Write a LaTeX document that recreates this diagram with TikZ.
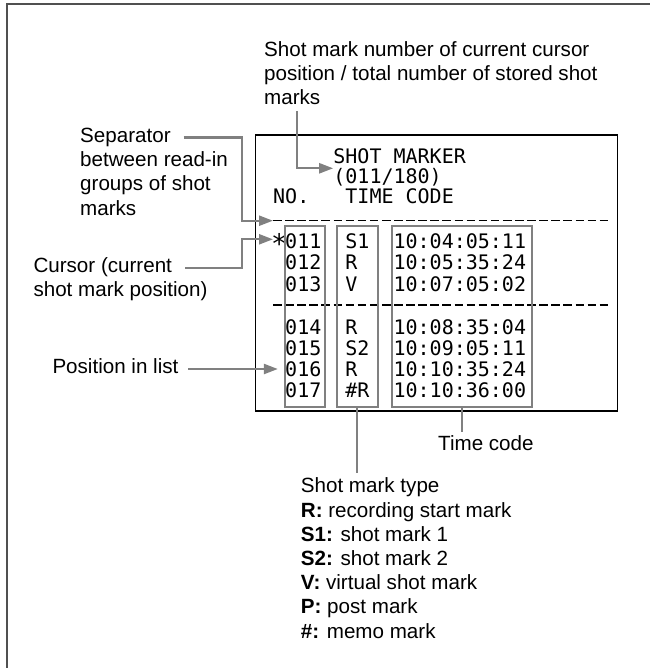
\documentclass[tikz,border=0pt]{standalone}
\usepackage{fontspec}
\setmainfont{Liberation Sans}
\setmonofont{DejaVu Sans Mono}
\usepackage{xcolor}
\usetikzlibrary{arrows.meta}
\definecolor{markgray}{HTML}{808080}
\definecolor{framegray}{HTML}{505050}
\newcommand{\cursorstar}{\makebox[0.602em]{\raisebox{-0.28em}{\scalebox{1.35}{*}}}}

\begin{document}
\begin{tikzpicture}[x=1pt,y=-1pt,>={Triangle[length=14pt,width=10pt]},
  note/.style={font=\fontsize{20.6}{24.2}\selectfont,inner sep=0pt,align=left,anchor=base west},
  lcd/.style={font=\fontsize{20}{21}\selectfont\ttfamily,inner sep=0pt,anchor=base west},
  colbox/.style={draw=markgray,line width=2.3pt,inner sep=0pt,minimum height=180.7pt},
  lead/.style={draw=markgray,line width=2.3pt},
  sepline/.style={line width=1.3pt,dash pattern=on 8.6pt off 3.5pt}]
  \useasboundingbox (0,0) rectangle (650,668);
  \draw[framegray,line width=1.8pt] (7.3,668) -- (7.3,4.3) -- (650,4.3);

  \node[draw,line width=1.3pt,minimum width=362pt,minimum height=276pt,inner sep=0pt] (screen) at (436.7,273) {};
  \node[lcd] (title) at (333.2,163.3) {SHOT MARKER};
  \node[lcd] (count) at (333.2,183.3) {(011/180)};
  \node[lcd] (head) at (273,203.3) {NO.~~~TIME~CODE};
  \coordinate (sep1) at (273,220.7);
  \coordinate (sep2) at (273,305);
  \draw[sepline] (sep1) -- (sep1 -| 610,0);
  \draw[sepline] (sep2) -- (sep2 -| 610,0);
  \node[lcd] (row1) at (273,248) {\cursorstar011~~S1~~10:04:05:11};
  \node[lcd] (row2) at (273,269.5) {~012~~R~~~10:05:35:24};
  \node[lcd] (row3) at (273,291) {~013~~V~~~10:07:05:02};
  \node[lcd] (row4) at (273,334) {~014~~R~~~10:08:35:04};
  \node[lcd] (row5) at (273,355) {~015~~S2~~10:09:05:11};
  \node[lcd] (row6) at (273,376) {~016~~R~~~10:10:35:24};
  \node[lcd] (row7) at (273,397) {~017~~\#R~~10:10:36:00};

  \node[colbox,minimum width=40pt] (numcol) at (305,316.35) {};
  \node[colbox,minimum width=41pt] (typecol) at (357.2,316.35) {};
  \node[colbox,minimum width=139.7pt] (tccol) at (461.85,316.35) {};

  \node[note] (shotlbl) at (264,105) {Shot mark number of current cursor\\position / total number of stored shot\\marks};
  \coordinate (shotbend) at (296.7,168.3);
  \draw[lead,->,shorten <=6pt] (shotlbl.south -| shotbend) -- (shotbend) -- (title.west |- shotbend);

  \node[note] (seplbl) at (80,215) {Separator\\between read-in\\groups of shot\\marks};
  \coordinate (sepfrom) at (183.5,137.5);
  \coordinate (sepbend) at (241.7,220.7);
  \draw[lead,->] (sepfrom) -| (sepbend) -- (sep1);

  \node[note] (curlbl) at (33.3,296.7) {Cursor (current\\shot mark position)};
  \coordinate (curfrom) at (185,268.3);
  \coordinate (curbend) at (242.3,239.3);
  \draw[lead,->] (curfrom) -| (curbend) -- (curbend -| row1.west);

  \node[note] (poslbl) at (52.3,373) {Position in list};
  \coordinate (posfrom) at (188.3,369);
  \draw[lead,->,shorten >=6pt] (posfrom) -- (posfrom -| numcol.west);

  \node[note] (tclbl) at (438,450) {Time code};
  \draw[lead,shorten >=3pt] (tccol.south) -- (tccol.south |- tclbl.north);

  \node[note] (typelbl) at (300.7,638) {Shot mark type\\\textbf{R:} recording start mark\\\textbf{S1:} shot mark 1\\\textbf{S2:} shot mark 2\\\textbf{V:} virtual shot mark\\\textbf{P:} post mark\\\textbf{\#:} memo mark};
  \draw[lead,shorten >=5pt] (typecol.south) -- (typecol.south |- typelbl.north);
\end{tikzpicture}
\end{document}
